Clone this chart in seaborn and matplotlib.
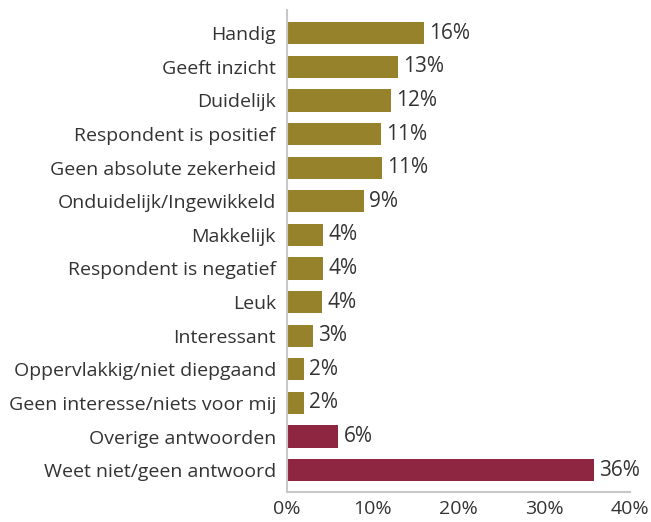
import matplotlib
matplotlib.use("Agg")
import matplotlib.pyplot as plt
import seaborn as sns
import pandas as pd

categories = ["Handig", "Geeft inzicht", "Duidelijk", "Respondent is positief",
              "Geen absolute zekerheid", "Onduidelijk/Ingewikkeld", "Makkelijk",
              "Respondent is negatief", "Leuk", "Interessant",
              "Oppervlakkig/niet diepgaand", "Geen interesse/niets voor mij",
              "Overige antwoorden", "Weet niet/geen antwoord"]
values = [16.0, 12.9, 12.1, 11.0, 11.1, 9.0, 4.2, 4.2, 4.1, 3.0, 2.0, 2.0, 6.0, 35.8]
labels = ["16%", "13%", "12%", "11%", "11%", "9%", "4%", "4%", "4%", "3%", "2%", "2%", "6%", "36%"]
groups = ["main"] * 12 + ["other"] * 2
xticks = [0, 10, 20, 30, 40]
xticklabels = ["0%", "10%", "20%", "30%", "40%"]

df = pd.DataFrame({"cat": categories, "val": values, "grp": groups})

sns.set_style("white")
plt.rcParams["font.family"] = ["Open Sans", "DejaVu Sans"]
text_color = "#333333"
fs = 14.0

fig = plt.figure(figsize=(6.51, 5.22), dpi=100)
ax = fig.add_axes([287/651, 1 - 492/522, (630 - 287)/651, (492 - 10)/522])

palette = {"main": "#95822B", "other": "#8E2541"}
sns.barplot(data=df, x="val", y="cat", hue="grp", palette=palette, dodge=False,
            width=0.66, legend=False, ax=ax, saturation=1, linewidth=0)

for i, (v, lab) in enumerate(zip(values, labels)):
    ax.text(v + 0.6, i, lab, va="center", ha="left", fontsize=fs + 1.0, color=text_color)

ax.set_xlim(0, 40)
ax.set_ylim(13.65, -0.69)
ax.set_xticks(xticks)
ax.set_xticklabels(xticklabels, fontsize=fs, color=text_color)
ax.tick_params(axis="y", length=0, labelsize=fs, labelcolor=text_color, pad=8)
ax.tick_params(axis="x", direction="out", length=6, width=1, color="#c8c8c8", pad=0)
ax.set_xlabel("")
ax.set_ylabel("")
for s in ["top", "right"]:
    ax.spines[s].set_visible(False)
for s in ["left", "bottom"]:
    ax.spines[s].set_color("#c8c8c8")
    ax.spines[s].set_linewidth(1.5)

fig.savefig("out.png", dpi=100)
